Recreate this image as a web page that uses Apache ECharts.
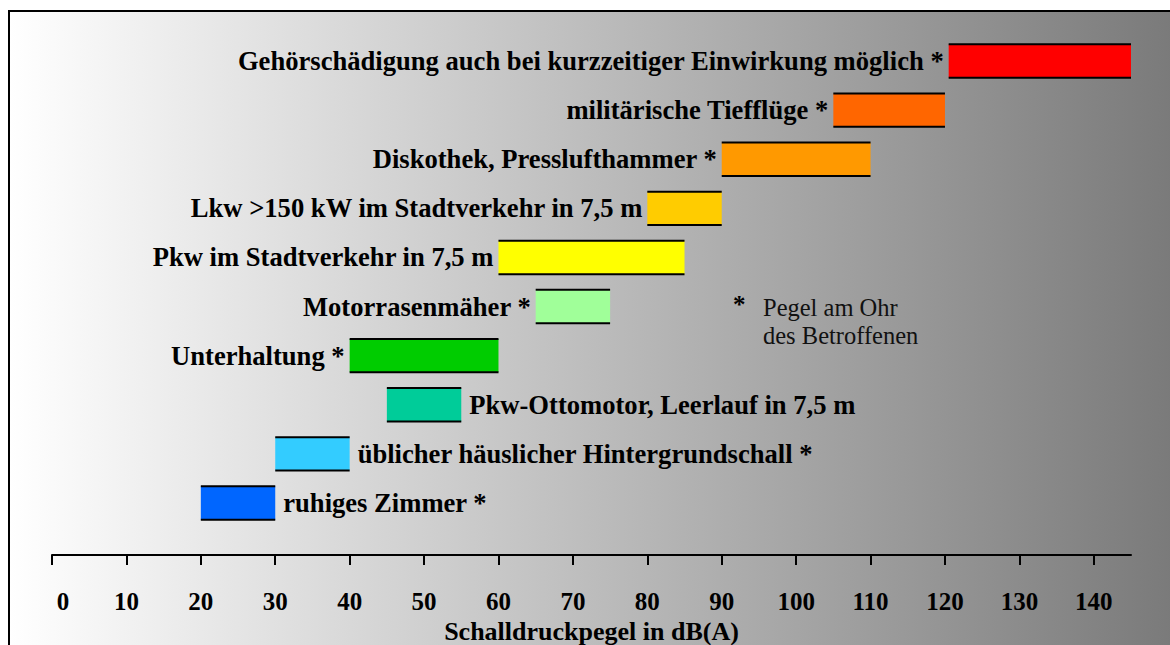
<!DOCTYPE html>
<html>
<head>
<meta charset="utf-8">
<title>Schalldruckpegel</title>
<script src="https://cdn.jsdelivr.net/npm/echarts@6/dist/echarts.min.js"></script>
<style>
  html, body { margin: 0; padding: 0; background: #fff; }
  #chart { width: 1170px; height: 645px; }
</style>
</head>
<body>
<div id="chart"></div>
<script>
// Geräuschquellen, von oben nach unten
var labels = [
  'Gehörschädigung auch bei kurzzeitiger Einwirkung möglich *',
  'militärische Tiefflüge *',
  'Diskothek, Presslufthammer *',
  'Lkw >150 kW im Stadtverkehr in 7,5 m',
  'Pkw im Stadtverkehr in 7,5 m',
  'Motorrasenmäher *',
  'Unterhaltung *',
  'Pkw-Ottomotor, Leerlauf in 7,5 m',
  'üblicher häuslicher Hintergrundschall *',
  'ruhiges Zimmer *'
];
var startDb = [120.5, 105, 90, 80, 60, 65, 40, 45, 30, 20];
var endDb = [145, 120, 110, 90, 85, 75, 60, 55, 40, 30];
var barColors = ['#ff0000', '#ff6600', '#ff9900', '#ffcc00', '#ffff00', '#a0ff99', '#00cc00', '#00cc99', '#33ccff', '#0066ff'];
var labelSide = ['left', 'left', 'left', 'left', 'left', 'left', 'left', 'right', 'right', 'right'];
var tickValues = [0, 10, 20, 30, 40, 50, 60, 70, 80, 90, 100, 110, 120, 130, 140];

var chart = echarts.init(document.getElementById('chart'), null, { renderer: 'svg' });

function renderRange(params, api) {
  var i = api.value(0);
  var p0 = api.coord([api.value(1), i]);
  var p1 = api.coord([api.value(2), i]);
  var h = api.size([0, 1])[1] * 0.68;
  var top = p0[1] - h / 2;
  var left = labelSide[i] === 'left';
  return {
    type: 'group',
    children: [
      {
        type: 'rect',
        shape: { x: p0[0], y: top, width: p1[0] - p0[0], height: h },
        style: { fill: barColors[i] }
      },
      {
        type: 'line',
        shape: { x1: p0[0], y1: top, x2: p1[0], y2: top },
        style: { stroke: '#000', lineWidth: 2 }
      },
      {
        type: 'line',
        shape: { x1: p0[0], y1: top + h, x2: p1[0], y2: top + h },
        style: { stroke: '#000', lineWidth: 2 }
      },
      {
        type: 'text',
        x: left ? p0[0] - 5 : p1[0] + 8,
        y: p0[1],
        style: {
          text: labels[i],
          align: left ? 'right' : 'left',
          verticalAlign: 'middle',
          font: 'bold 26.6px "Liberation Serif"',
          fill: '#000'
        }
      }
    ]
  };
}

chart.setOption({
  backgroundColor: '#fff',
  animation: false,
  graphic: [
    {
      type: 'rect',
      z: -10,
      silent: true,
      shape: { x: 9, y: 11, width: 1200, height: 700 },
      style: {
        fill: new echarts.graphic.LinearGradient(0, 0, 1, 0, [
          { offset: 0, color: '#ffffff' },
          { offset: 1, color: '#767676' }
        ]),
        stroke: '#000',
        lineWidth: 2
      }
    },
    {
      type: 'text',
      left: 733,
      top: 292,
      style: { text: '*', font: 'bold 25px "Liberation Serif"', fill: '#000' }
    },
    {
      type: 'text',
      left: 763,
      top: 293,
      style: {
        text: 'Pegel am Ohr\ndes Betroffenen',
        font: '24.5px "Liberation Serif"',
        lineHeight: 28,
        fill: '#111'
      }
    }
  ],
  grid: { left: 52, right: 39, top: 36.5, height: 491, outerBoundsMode: 'none' },
  xAxis: {
    type: 'value',
    min: 0,
    max: 145,
    interval: 10,
    offset: 27.5,
    name: 'Schalldruckpegel in dB(A)',
    nameLocation: 'middle',
    nameGap: 56,
    nameTextStyle: { fontFamily: 'Liberation Serif', fontWeight: 'bold', fontSize: 26, color: '#000' },
    axisLine: { show: true, lineStyle: { color: '#000', width: 2 } },
    axisTick: { show: true, length: 10, customValues: tickValues, lineStyle: { color: '#000', width: 2 } },
    axisLabel: {
      customValues: tickValues,
      margin: 34,
      fontFamily: 'Liberation Serif',
      fontWeight: 'bold',
      fontSize: 25,
      color: '#000',
      formatter: function (v) { return v === 0 ? '{z|0}' : String(v); },
      rich: {
        z: { padding: [0, 0, 0, 22], fontFamily: 'Liberation Serif', fontWeight: 'bold', fontSize: 25, color: '#000' }
      }
    },
    splitLine: { show: false }
  },
  yAxis: {
    type: 'category',
    inverse: true,
    data: labels.map(function (l, i) { return i; }),
    show: false
  },
  series: [
    {
      type: 'custom',
      renderItem: renderRange,
      encode: { x: [1, 2], y: 0 },
      data: labels.map(function (l, i) { return [i, startDb[i], endDb[i]]; })
    }
  ]
});
</script>
</body>
</html>
